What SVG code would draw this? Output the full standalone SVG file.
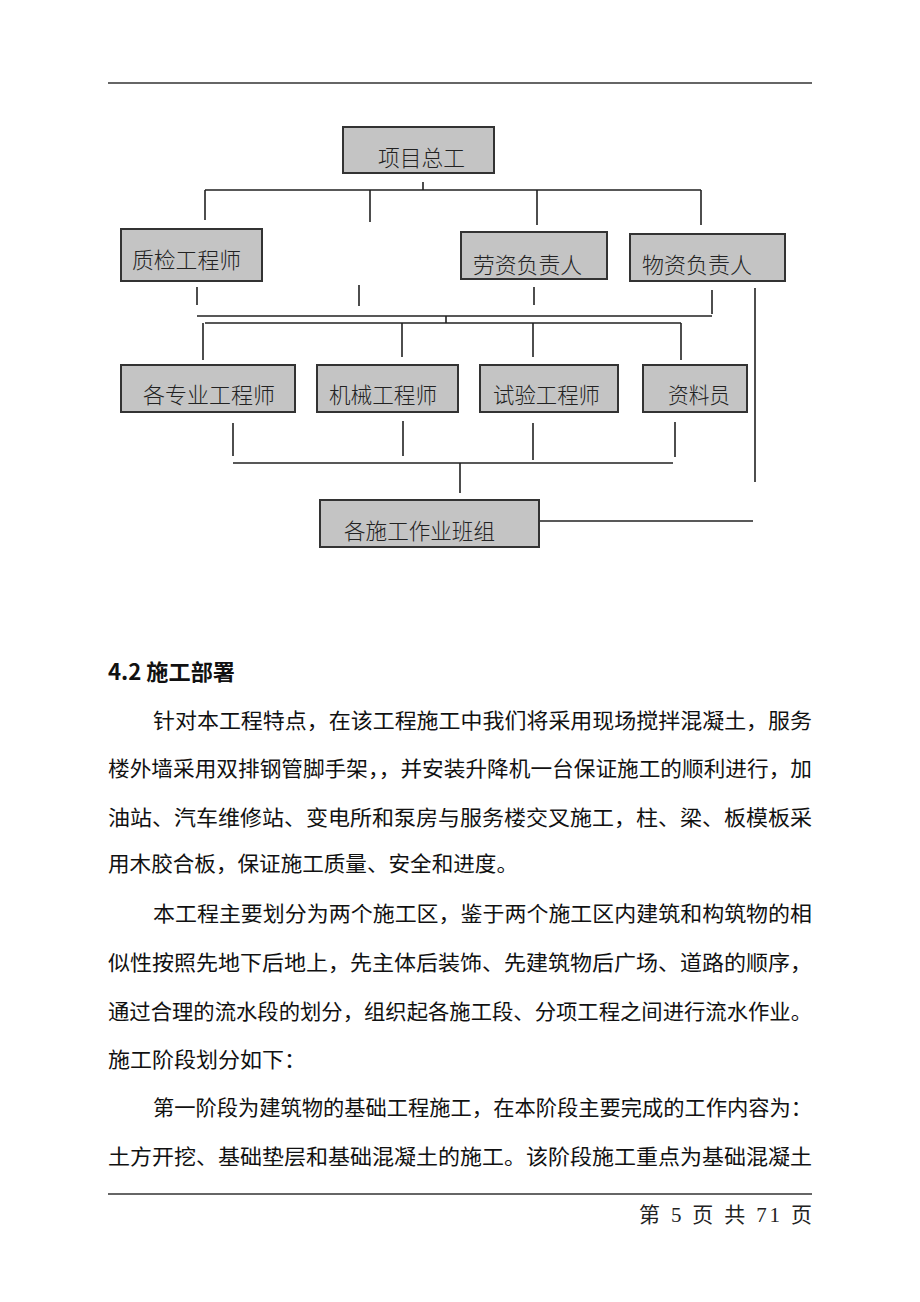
<svg xmlns="http://www.w3.org/2000/svg" width="920" height="1302" viewBox="0 0 920 1302">
<style>
.bx{fill:#c4c4c4;stroke:#333;stroke-width:2}
.bt{font-family:"Liberation Serif","Noto Sans CJK SC",serif;font-size:22px;font-weight:300;fill:#222}
.ln{stroke:#222;stroke-width:1.6;fill:none}
.rule{stroke:#333;stroke-width:1.5}
.body{font-family:"Noto Sans CJK SC","Noto Sans",sans-serif;font-size:21px;fill:#111}
.hd{font-family:"Noto Sans CJK SC","Noto Sans",sans-serif;font-size:22px;font-weight:bold;fill:#111}
.ft{font-family:"Liberation Serif","Noto Sans CJK SC",serif;font-size:21px;fill:#222}
</style>
<rect width="920" height="1302" fill="#fff"/>
<line class="rule" x1="108" y1="83" x2="812" y2="83"/>

<g id="connectors">
<path class="ln" d="M423 182V190M205 190H701M205 190V220M370 190V222M537 190V225M701 190V225"/>
<path class="ln" d="M197 287V305M359 285V306M534 287V305M712 290V314M755 288V482"/>
<path class="ln" d="M197 316H712M446 316V323M205 323H681M203 323V360M402 323V357M533 323V357M681 323V360"/>
<path class="ln" d="M233 423V456M403 421V456M533 423V460M675 422V457M233 463H673M460 463V493"/>
<path class="ln" d="M539 521H753"/>
</g>

<g id="n1"><rect class="bx" x="343" y="127" width="151" height="46"/><text class="bt" x="378" y="166" textLength="87" lengthAdjust="spacingAndGlyphs">项目总工</text></g>
<g id="n2"><rect class="bx" x="121" y="229" width="141" height="52"/><text class="bt" x="132" y="268" textLength="109" lengthAdjust="spacingAndGlyphs">质检工程师</text></g>
<g id="n3"><rect class="bx" x="461" y="232" width="146" height="47"/><text class="bt" x="473" y="273" textLength="109" lengthAdjust="spacingAndGlyphs">劳资负责人</text></g>
<g id="n4"><rect class="bx" x="630" y="234" width="155" height="47"/><text class="bt" x="642" y="273" textLength="110" lengthAdjust="spacingAndGlyphs">物资负责人</text></g>
<g id="n5"><rect class="bx" x="121" y="365" width="174" height="47"/><text class="bt" x="143" y="403" textLength="132" lengthAdjust="spacingAndGlyphs">各专业工程师</text></g>
<g id="n6"><rect class="bx" x="317" y="365" width="141" height="47"/><text class="bt" x="329" y="403" textLength="108" lengthAdjust="spacingAndGlyphs">机械工程师</text></g>
<g id="n7"><rect class="bx" x="480" y="365" width="138" height="47"/><text class="bt" x="493" y="403" textLength="107" lengthAdjust="spacingAndGlyphs">试验工程师</text></g>
<g id="n8"><rect class="bx" x="643" y="365" width="104" height="47"/><text class="bt" x="668" y="403" textLength="62" lengthAdjust="spacingAndGlyphs">资料员</text></g>
<g id="n9"><rect class="bx" x="320" y="500" width="219" height="47"/><text class="bt" x="344" y="539" textLength="151" lengthAdjust="spacingAndGlyphs">各施工作业班组</text></g>

<g id="text">
<text class="hd" x="108" y="680" textLength="127" lengthAdjust="spacingAndGlyphs">4.2 施工部署</text>
<text class="body" x="153" y="728" textLength="659" lengthAdjust="spacingAndGlyphs">针对本工程特点，在该工程施工中我们将采用现场搅拌混凝土，服务</text>
<text class="body" x="108" y="776" textLength="704" lengthAdjust="spacingAndGlyphs">楼外墙采用双排钢管脚手架，，并安装升降机一台保证施工的顺利进行，加</text>
<text class="body" x="108" y="825" textLength="704" lengthAdjust="spacingAndGlyphs">油站、汽车维修站、变电所和泵房与服务楼交叉施工，柱、梁、板模板采</text>
<text class="body" x="108" y="871" textLength="410" lengthAdjust="spacingAndGlyphs">用木胶合板，保证施工质量、安全和进度。</text>
<text class="body" x="153" y="921" textLength="659" lengthAdjust="spacingAndGlyphs">本工程主要划分为两个施工区，鉴于两个施工区内建筑和构筑物的相</text>
<text class="body" x="108" y="970" textLength="704" lengthAdjust="spacingAndGlyphs">似性按照先地下后地上，先主体后装饰、先建筑物后广场、道路的顺序，</text>
<text class="body" x="108" y="1019" textLength="704" lengthAdjust="spacingAndGlyphs">通过合理的流水段的划分，组织起各施工段、分项工程之间进行流水作业。</text>
<text class="body" x="108" y="1067" textLength="198" lengthAdjust="spacingAndGlyphs">施工阶段划分如下：</text>
<text class="body" x="153" y="1115" textLength="659" lengthAdjust="spacingAndGlyphs">第一阶段为建筑物的基础工程施工，在本阶段主要完成的工作内容为：</text>
<text class="body" x="108" y="1164" textLength="704" lengthAdjust="spacingAndGlyphs">土方开挖、基础垫层和基础混凝土的施工。该阶段施工重点为基础混凝土</text>
</g>

<line class="rule" x1="108" y1="1194" x2="812" y2="1194"/>
<text class="ft" x="812" y="1222" text-anchor="end" textLength="173" lengthAdjust="spacing">第 5 页 共 71 页</text>
</svg>
